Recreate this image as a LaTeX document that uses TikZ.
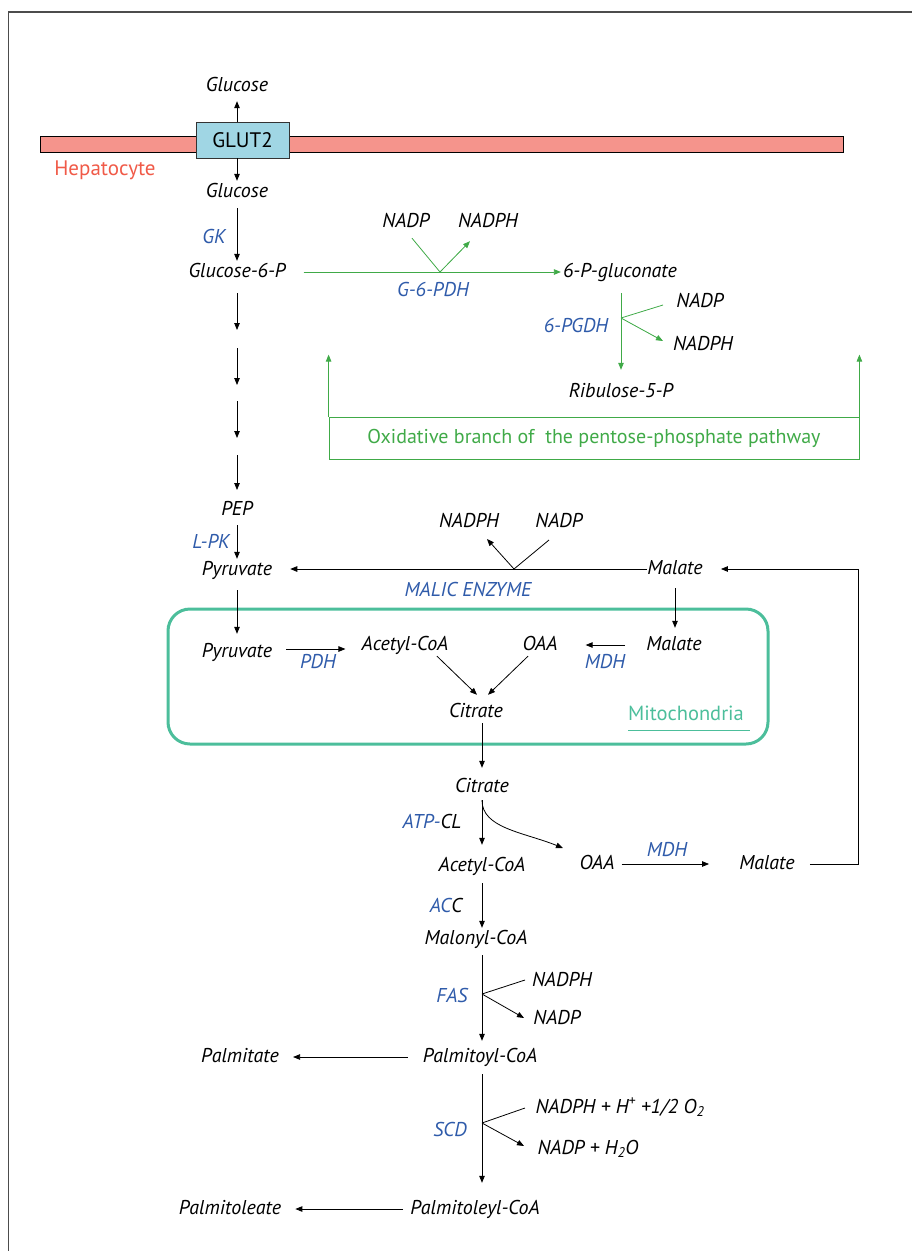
\documentclass[tikz,border=0pt]{standalone}
\usepackage{fontspec}
\setmainfont{PT Sans}
\usetikzlibrary{arrows.meta,calc}

\definecolor{enzblue}{RGB}{47,91,170}
\definecolor{pppgreen}{RGB}{64,170,72}
\definecolor{mitoteal}{RGB}{76,190,155}
\definecolor{hepred}{RGB}{240,90,72}
\definecolor{membfill}{RGB}{245,148,140}
\definecolor{glutfill}{RGB}{160,214,228}

\tikzset{
  met/.style={font=\fontsize{20}{24}\selectfont\itshape, inner sep=2pt, text height=14pt, text depth=4pt},
  enz/.style={met, text=enzblue},
  arr/.style={line width=0.8pt, -{Triangle[length=7pt,width=5.5pt]}},
  plain/.style={line width=0.8pt},
  grarr/.style={arr, draw=pppgreen, fill=pppgreen},
  grline/.style={plain, draw=pppgreen},
}

\begin{document}
\begin{tikzpicture}[x=1pt,y=-1pt]
\useasboundingbox (0,0) rectangle (912,1251);

%% frame
\draw[line width=1.5pt, black!70] (8.5,1251) -- (8.5,12) -- (912,12);

%% membrane
\draw[line width=0.8pt, fill=membfill] (40,136) rectangle (843,152);
\node[draw=black!80, line width=0.8pt, fill=glutfill, minimum width=93pt, minimum height=36pt,
      font=\fontsize{21}{24}\selectfont] (glut) at (242.5,140) {GLUT2};
\node[font=\fontsize{21}{24}\selectfont, text=hepred] (hep) at (105,170) {Hepatocyte};

%% glucose in / out
\node[met] (glcout) at (237,86) {Glucose};
\node[met] (glcin) at (237,192) {Glucose};
\draw[arr, shorten >=4pt] (glut.north -| glcout.south) -- (glcout.south);
\draw[arr] (glut.south -| glcin.north) -- (glcin.north);

\node[met] (g6p) at (237,272) {Glucose-6-P};
\draw[arr, shorten <=5pt] (glcin) -- (g6p);
\node[enz] at (214,238) {GK};

%% pentose-phosphate branch
\node[met] (pgluc) at (620,272) {6-P-gluconate};
\node[met] (nadpA) at (406,222) {NADP};
\node[met] (nadphA) at (488,222) {NADPH};
\coordinate (jA) at (440,272);
\draw[grarr, shorten <=16pt] (g6p) -- (pgluc);
\draw[grline] ([xshift=6pt,yshift=-5pt]nadpA.south) -- (jA);
\draw[grarr] (jA) -- ([xshift=-18pt,yshift=-8pt]nadphA.south);
\node[enz] at (433,291) {G-6-PDH};

\node[met] (ribu) at (621,392) {Ribulose-5-P};
\node[met] (nadpB) at (700,302) {NADP};
\node[met] (nadphB) at (703,345) {NADPH};
\coordinate (jB) at (621,318);
\coordinate (nadpBin) at (663,305);
\coordinate (nadphBin) at (663,341);
\draw[grarr, shorten <=10pt, shorten >=11pt] (pgluc.south -| ribu.north) -- (ribu.north);
\draw[grline] (nadpBin) -- (jB);
\draw[grarr] (jB) -- (nadphBin);
\node[enz] at (576,327) {6-PGDH};

\node[draw=pppgreen, line width=0.8pt, text=pppgreen, minimum width=530pt, minimum height=42pt,
      font=\fontsize{20}{24}\selectfont] (ox) at (594,438) {Oxidative branch of \ the pentose-phosphate pathway};
\draw[grarr] (ox.north west) -- ++(0,-62);
\draw[grarr] (ox.north east) -- ++(0,-62);

%% glycolysis
\draw[arr] (g6p.south) ++(0,10) -- (237,330);
\foreach \a/\b in {348/385, 401/438, 455/490}
  \draw[arr] (237,\a) -- (237,\b);

\node[met] (pep) at (237,510) {PEP};
\node[met] (pyr) at (237,570) {Pyruvate};
\draw[arr, shorten <=4pt] (pep) -- (pyr);
\node[enz] at (211,543) {L-PK};

%% malic enzyme
\node[met] (malC) at (675,569) {Malate};
\node[met] (nadphC) at (469,522) {NADPH};
\node[met] (nadpC) at (559,522) {NADP};
\coordinate (jC) at (514,569);
\coordinate (nadpCin) at (549,540);
\coordinate (nadphCin) at (487,539);
\draw[arr, shorten <=-2pt, shorten >=16pt] (malC.west) -- (pyr.east |- malC.west);
\draw[plain] (nadpCin) -- (jC);
\draw[arr] (jC) -- (nadphCin);
\node[enz] at (468,591) {MALIC ENZYME};

%% mitochondria
\draw[mitoteal, line width=3pt, rounded corners=22pt] (168,609) rectangle (768,744);
\node[font=\fontsize{20.5}{24}\selectfont, text=mitoteal] (mitlab) at (686,713) {Mitochondria};
\draw[mitoteal, line width=1pt] (628,730) -- (750,730);

\node[met] (pyrM) at (237,652) {Pyruvate};
\draw[arr, shorten <=9pt, shorten >=7pt] (pyr) -- (pyrM);
\node[met] (acoaM) at (405,645) {Acetyl-CoA};
\draw[arr, shorten <=12pt, shorten >=14pt] ([yshift=3pt]pyrM.east) -- ([yshift=3pt]pyrM.east -| acoaM.west);
\node[enz] at (318,663) {PDH};

\node[met] (malM) at (674,645) {Malate};
\draw[arr, shorten <=8pt, shorten >=6pt] (malC) -- (malC |- malM.north);
\node[met] (oaaM) at (540,645) {OAA};
\draw[arr, shorten <=19pt, shorten >=26pt] (malM.west) -- (oaaM.east);
\node[enz] at (605,663) {MDH};

\node[met] (citM) at (476,712) {Citrate};
\draw[arr] ([xshift=32pt]acoaM.south) -- ([xshift=1pt,yshift=6pt]citM.north);
\draw[arr] ([xshift=-12pt]oaaM.south) -- ([xshift=12pt,yshift=6pt]citM.north);

%% cytosol
\node[met] (citC) at (482,787) {Citrate};
\draw[arr, shorten >=8pt] (citC.north |- citM.south) -- (citC.north);

\node[met] (acoaC) at (482,866) {Acetyl-CoA};
\draw[arr, shorten <=2pt, shorten >=10pt] (citC) -- (acoaC);
\node[met] at (432,823) {\textcolor{enzblue}{ATP-}CL};

\node[met] (oaaC) at (597,864) {OAA};
\coordinate (oaaend) at (563,848);
\draw[arr] ([yshift=-2pt]citC.south) .. controls +(0,28) and +(-40,-16) .. (oaaend);

\node[met] (malD) at (767,864) {Malate};
\draw[arr, shorten <=5pt, shorten >=28pt] (oaaC.east) -- (malD.west);
\node[enz] at (667,851) {MDH};

\coordinate (rt) at (858,569);
\draw[arr, shorten >=16pt] ([xshift=13pt]malD.east) -| (rt) -- (malC.east);

\node[met] (malcoa) at (476,939) {Malonyl-CoA};
\draw[arr, shorten <=6pt] (acoaC.south -| citC) -- (malcoa.north -| citC);
\node[met] at (446,907) {\textcolor{enzblue}{AC}C};

%% fatty acid synthesis
\node[met] (palcoa) at (480,1057) {Palmitoyl-CoA};
\draw[arr, shorten <=5pt, shorten >=5pt] (malcoa.south -| citC) -- (palcoa.north -| citC);
\node[met] (nadphD) at (562,981) {NADPH};
\node[met] (nadpD) at (557,1019) {NADP};
\coordinate (jD) at (482,994);
\coordinate (nadphDin) at (525,980);
\coordinate (nadpDin) at (524,1018);
\draw[plain] (nadphDin) -- (jD);
\draw[arr] (jD) -- (nadpDin);
\node[enz] at (452,997) {FAS};

\node[met] (palm) at (240,1057) {Palmitate};
\draw[arr, shorten <=13pt, shorten >=12pt] (palcoa.west) -- (palm.east);

\node[met] (paltcoa) at (475,1209) {Palmitoleyl-CoA};
\draw[arr, shorten <=6pt, shorten >=15pt] (palcoa.south -| citC) -- (paltcoa.north -| citC);
\node[met] (nadphE) at (620,1108) {NADPH + H\textsuperscript{+} +1/2 O\textsubscript{2}};
\node[met] (nadpE) at (588,1149) {NADP + H\textsubscript{2}O};
\coordinate (jE) at (482,1123);
\coordinate (nadphEin) at (525,1108);
\coordinate (nadpEin) at (524,1146);
\draw[plain] (nadphEin) -- (jE);
\draw[arr] (jE) -- (nadpEin);
\node[enz] at (450,1131) {SCD};

\node[met] (paltl) at (230,1209) {Palmitoleate};
\draw[arr, shorten <=5pt, shorten >=12pt] (paltcoa.west) -- (paltl.east);

\end{tikzpicture}
\end{document}
